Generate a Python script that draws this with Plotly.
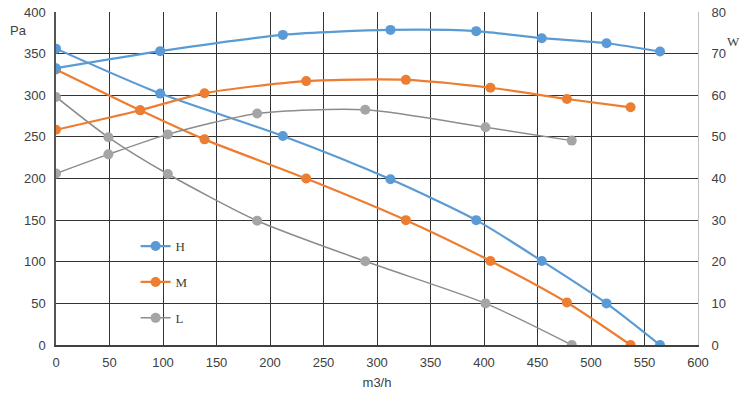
import plotly.graph_objects as go

# Flow (m3/h) for each speed
h_flow = [0, 97.4, 212, 312.6, 392.7, 454, 514.5, 564.5]
h_pressure = [356, 302, 251, 199, 150, 101, 50, 0]
h_power = [66.5, 70.6, 74.5, 75.7, 75.4, 73.7, 72.5, 70.5]

m_flow = [0, 78.7, 138.8, 233.8, 327, 406, 477.5, 537]
m_pressure = [331, 282, 247, 200, 150, 101, 51, 0]
m_power = [51.7, 56.4, 60.5, 63.4, 63.7, 61.8, 59.1, 57.1]

l_flow = [0, 49, 104.5, 188, 289, 401.4, 482]
l_pressure = [298, 249.5, 205.4, 149.3, 100.5, 50, 0]
l_power = [41.2, 45.8, 50.6, 55.6, 56.5, 52.3, 49.1]

series_names = ["H", "M", "L"]
line_colors = ["#5B9BD5", "#ED7D31", "#8C8C8C"]
marker_colors = ["#5B9BD5", "#ED7D31", "#A5A5A5"]
line_widths = [2.2, 2.2, 1.5]

x_ticks = list(range(0, 601, 50))
y_ticks = list(range(0, 401, 50))
y2_ticks = list(range(0, 81, 10))

data = [(h_flow, h_pressure, h_power), (m_flow, m_pressure, m_power), (l_flow, l_pressure, l_power)]

fig = go.Figure()
for i, (flow, pres, powr) in enumerate(data):
    name = series_names[i]
    fig.add_trace(go.Scatter(
        x=flow, y=pres, name=name, legendgroup=name, showlegend=True,
        mode="lines+markers", line=dict(color=line_colors[i], width=line_widths[i], shape="spline", smoothing=0.7),
        marker=dict(color=marker_colors[i], size=10), yaxis="y"))
    fig.add_trace(go.Scatter(
        x=flow, y=powr, name=name, legendgroup=name, showlegend=False,
        mode="lines+markers", line=dict(color=line_colors[i], width=line_widths[i], shape="spline", smoothing=0.7),
        marker=dict(color=marker_colors[i], size=10), yaxis="y2"))

tick_font = dict(family="Liberation Sans Narrow, Liberation Sans, Arial", size=13, color="#404040")
grid_color = "#333333"

L, R, T, B = 56, 45, 12, 50
W, H = 743, 395

fig.update_layout(
    width=W, height=H,
    margin=dict(l=L, r=R, t=T, b=B, autoexpand=False),
    paper_bgcolor="white", plot_bgcolor="white",
    font=tick_font,
    xaxis=dict(range=[0, 600], tickvals=x_ticks, showgrid=True, gridcolor=grid_color, gridwidth=1,
               showline=True, linecolor="#404040", linewidth=1.5, zeroline=False,
               ticks="outside", ticklen=5, tickcolor="rgba(0,0,0,0)",
               automargin=False,
               title=dict(text="m3/h", font=dict(size=13, color="#404040"), standoff=9),
               tickfont=tick_font),
    yaxis=dict(range=[0, 400], tickvals=y_ticks, showgrid=True, gridcolor=grid_color, gridwidth=1,
               showline=True, linecolor="#555555", linewidth=1.5, zeroline=False,
               ticks="outside", ticklen=6, tickcolor="rgba(0,0,0,0)",
               automargin=False, tickfont=tick_font),
    yaxis2=dict(range=[0, 80], tickvals=y2_ticks, overlaying="y", side="right", showgrid=False,
                showline=True, linecolor="#BFBFBF", linewidth=1, zeroline=False,
                ticks="outside", ticklen=10, tickcolor="rgba(0,0,0,0)",
                automargin=False, tickfont=tick_font),
    legend=dict(x=0.124, y=0.342, xanchor="left", yanchor="top", bgcolor="rgba(0,0,0,0)",
                font=dict(family="Liberation Serif, DejaVu Serif", size=13, color="#404040"),
                tracegroupgap=16, itemwidth=30),
    showlegend=True,
    hovermode=False,
)
pw = W - L - R
ph = H - T - B
fig.add_annotation(text="Pa", xref="paper", yref="paper", x=(18 - L) / pw, y=(H - B - 30) / ph,
                   showarrow=False, font=dict(size=13, color="#404040"), xanchor="center", yanchor="middle")
fig.add_annotation(text="W", xref="paper", yref="paper", x=(733 - L) / pw, y=(H - B - 41) / ph,
                   showarrow=False, font=dict(family="Liberation Serif, DejaVu Serif", size=13, color="#404040"),
                   xanchor="center", yanchor="middle")

fig.write_html("out.html", config={"displayModeBar": False},
               post_script="document.body.style.margin='0';")
